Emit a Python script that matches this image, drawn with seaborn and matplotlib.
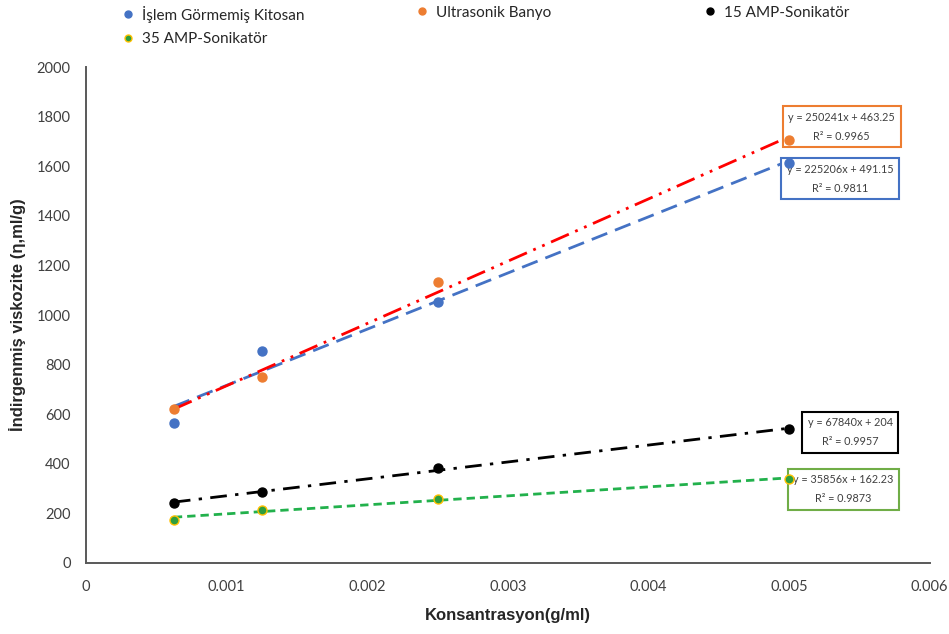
import numpy as np
import pandas as pd
import matplotlib
matplotlib.use("Agg")
import matplotlib.pyplot as plt
from matplotlib.lines import Line2D
import seaborn as sns

# Data
konsantrasyon = [0.000625, 0.00125, 0.0025, 0.005]
islem_gormemis = [564, 855, 1052, 1613]
ultrasonik = [621, 750, 1133, 1706]
amp15 = [242, 286, 383, 540]
amp35 = [175, 215, 258, 340]

series_names = ["İşlem Görmemiş Kitosan", "Ultrasonik Banyo",
                "15 AMP-Sonikatör", "35 AMP-Sonikatör"]
equations = ["y = 225206x + 491.15\nR² = 0.9811",
             "y = 250241x + 463.25\nR² = 0.9965",
             "y = 67840x + 204\nR² = 0.9957",
             "y = 35856x + 162.23\nR² = 0.9873"]

y_ticks = list(range(0, 2001, 200))
x_ticks = [0, 0.001, 0.002, 0.003, 0.004, 0.005, 0.006]
x_tick_labels = ["0", "0.001", "0.002", "0.003", "0.004", "0.005", "0.006"]

sns.set_style("white")
plt.rcParams['font.family'] = ['Lato', 'DejaVu Sans']

df = pd.DataFrame({
    "x": konsantrasyon * 4,
    "y": islem_gormemis + ultrasonik + amp15 + amp35,
    "seri": np.repeat(series_names, 4),
})

styles = {
    "İşlem Görmemiş Kitosan": dict(mc="#4472C4", me="#4472C4", lc="#4472C4", ls=(0, (6, 3))),
    "Ultrasonik Banyo": dict(mc="#ED7D31", me="#ED7D31", lc="#FF0000", ls=(0, (7, 2.5, 1, 2.5, 1, 2.5))),
    "15 AMP-Sonikatör": dict(mc="#000000", me="#000000", lc="#000000", ls=(0, (6, 3, 1.2, 3))),
    "35 AMP-Sonikatör": dict(mc="#2E9E3E", me="#FFC000", lc="#22B14C", ls=(0, (3, 1.8))),
}
box_colors = ["#4472C4", "#ED7D31", "#000000", "#70AD47"]
box_pos = [(0.885, 0.718), (0.887, 0.800), (0.896, 0.318), (0.889, 0.228)]

fig = plt.figure(figsize=(9.49, 6.34), dpi=100)
ax = fig.add_axes([0.0906, 0.112, 0.889, 0.782])

for name in series_names:
    sub = df[df["seri"] == name]
    st = styles[name]
    sns.regplot(data=sub, x="x", y="y", ax=ax, scatter=False, ci=None,
                line_kws=dict(color=st["lc"], lw=2, linestyle=st["ls"]))
    sns.scatterplot(data=sub, x="x", y="y", ax=ax, color=st["mc"],
                    edgecolor=st["me"], linewidth=1, s=42, zorder=6)

# equation boxes sit under the markers
for txt, col, (px, py) in zip(equations, box_colors, box_pos):
    ax.text(px, py, txt, transform=fig.transFigure, ha="center", va="center",
            fontsize=7.8, color="#404040", linespacing=1.9, zorder=4,
            bbox=dict(boxstyle="square,pad=0.5", fc="white", ec=col, lw=1.5))

ax.set_xlim(0, 0.006)
ax.set_ylim(0, 2000)
ax.set_xticks(x_ticks)
ax.set_xticklabels(x_tick_labels)
ax.set_yticks(y_ticks)
ax.tick_params(axis="both", labelsize=10.5, colors="#404040", length=0, pad=11)
ax.tick_params(axis="x", pad=12)
for side in ["top", "right"]:
    ax.spines[side].set_visible(False)
for side in ["left", "bottom"]:
    ax.spines[side].set_color("#595959")
    ax.spines[side].set_linewidth(1.4)

ax.set_xlabel("Konsantrasyon(g/ml)", fontsize=12, fontweight="bold",
              family=["Liberation Sans", "DejaVu Sans"], labelpad=10)
ax.set_ylabel("İndirgenmiş viskozite (η,ml/g)", fontsize=12, fontweight="bold",
              family=["Liberation Sans", "DejaVu Sans"], labelpad=8)

def marker(name):
    return Line2D([], [], ls="none", marker="o", markersize=5,
                  markerfacecolor=styles[name]["mc"],
                  markeredgecolor=styles[name]["me"])

# legend laid out as three columns across the top
legend_cols = [[series_names[0], series_names[3]], [series_names[1]], [series_names[2]]]
legend_x = [0.127, 0.437, 0.740]
for names, lx in zip(legend_cols, legend_x):
    leg = fig.legend([marker(n) for n in names], names, loc="upper left",
                     bbox_to_anchor=(lx, 0.991), frameon=False, fontsize=11,
                     handletextpad=0.4, labelspacing=0.6, handlelength=1,
                     borderpad=0, borderaxespad=0)

fig.savefig("out.png", dpi=100)
